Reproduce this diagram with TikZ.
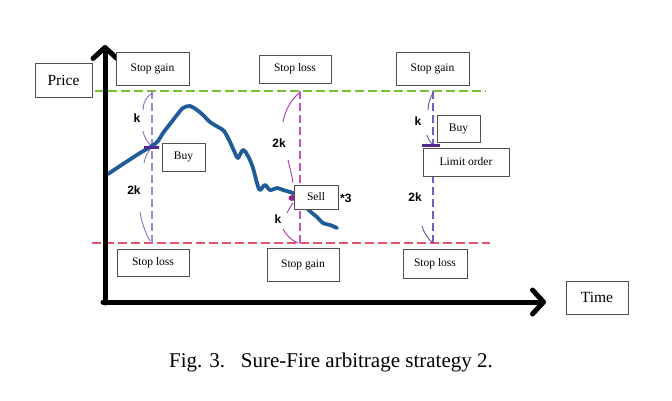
\documentclass[tikz,border=0pt]{standalone}
\usepackage{fontspec}
\setmainfont{Liberation Serif}
\newfontfamily\arialb{Liberation Sans}[BoldFont={Liberation Sans Bold}]
\usetikzlibrary{arrows.meta}
\definecolor{boxline}{HTML}{505050}
\definecolor{greenref}{HTML}{78C032}
\definecolor{redref}{HTML}{E2546C}
\definecolor{lline}{HTML}{9C86CC}
\definecolor{mline}{HTML}{C450C4}
\definecolor{pline}{HTML}{7A5CC0}
\definecolor{larc}{HTML}{8B72C0}
\definecolor{marc}{HTML}{A83AB0}
\definecolor{parc}{HTML}{6A4CB4}
\definecolor{pricecol}{HTML}{1F5C98}
\definecolor{markcol}{HTML}{55288F}
\definecolor{sellcol}{HTML}{A0208F}
\begin{document}
\begin{tikzpicture}[x=1pt,y=-1pt,
  box/.style={draw=boxline, line width=0.8pt, fill=white, inner sep=0pt,
    font=\fontsize{11.5}{13}\selectfont},
  bigbox/.style={box, font=\fontsize{15.5}{17}\selectfont},
  klabel/.style={font=\arialb\bfseries\fontsize{12}{13}\selectfont, inner sep=0pt},
  axis/.style={line width=5pt, line cap=round, -{Straight Barb[length=11pt,width=24pt,line width=5pt,round]}},
  hdash/.style={line width=1.2pt, dash pattern=on 9pt off 4pt},
  vdash/.style={line width=1.1pt, dash pattern=on 8pt off 4pt},
  arcline/.style={line width=0.9pt}]
\useasboundingbox (0,0) rectangle (672,400);

% horizontal reference lines
\coordinate (g1) at (95,91);  \coordinate (g2) at (486,91);
\coordinate (r1) at (92,243); \coordinate (r2) at (490,243);
\draw[hdash, greenref] (g1) -- (g2);
\draw[hdash, redref] (r1) -- (r2);

% vertical dashed lines
\coordinate (lt) at (152,91);  \coordinate (lb) at (152,243);
\coordinate (mt) at (300,91);  \coordinate (mb) at (300,243);
\coordinate (rt) at (433,91);  \coordinate (rb) at (433,243);
\draw[vdash, lline] (lt) -- (lb);
\draw[vdash, mline] (mt) -- (mb);
\draw[vdash, pline] (rt) -- (rb);

% brackets (left)
\coordinate (lbuy) at (152,147);
\draw[arcline, larc] (152,93) .. controls (146,97) and (143,103) .. (143,110);
\draw[arcline, larc] (143,131) .. controls (144,138) and (148,142) .. (lbuy);
\draw[arcline, larc] (lbuy) .. controls (148,151) and (145,157) .. (144,163);
\draw[arcline, larc] (140,212) .. controls (142,224) and (146,234) .. (150,241);
\node[klabel] (lk) at (137,118) {k};
\node[klabel] (l2k) at (134,190) {2k};

% brackets (middle)
\coordinate (msell) at (292,198);
\draw[arcline, marc] (299,93) .. controls (291,100) and (285,110) .. (283,122);
\draw[arcline, marc] (288,160) .. controls (290,168) and (292,176) .. (293,183);
\draw[arcline, marc] (293,203) .. controls (291,206) and (289,209) .. (287,213);
\draw[arcline, marc] (283,229) .. controls (286,235) and (291,240) .. (298,243);
\node[klabel] (m2k) at (279,143) {2k};
\node[klabel] (mk) at (278,219) {k};

% brackets (right)
\coordinate (rbuy) at (433,145);
\draw[arcline, parc] (433,93) .. controls (430,98) and (428,104) .. (428,110);
\draw[arcline, parc] (427,135) .. controls (428,139) and (430,142) .. (rbuy);
\draw[arcline, parc] (422,226) .. controls (424,233) and (428,239) .. (433,243);
\node[klabel] (rk) at (418,121) {k};
\node[klabel] (r2k) at (415,197) {2k};

% price path
\draw[pricecol, line width=3.8pt, line cap=round, line join=round]
  plot[smooth, tension=0.55] coordinates {
  (108,174) (123,164) (140,153) (152,146) (158,141) (163,133) (170,124)
  (177,115) (183,108) (190,106) (197,110) (203,115) (210,122) (218,127)
  (224,131) (230,142) (235,153) (238,158) (243,150) (248,156) (253,168)
  (257,183) (260,190) (265,185) (270,190) (277,188) (283,190) (293,193)
  (300,197) (307,208) (312,213) (317,217) (323,223) (330,225) (337,228)};

% markers
\draw[markcol, line width=3pt] (144,147) -- (159,147);
\fill[sellcol] (msell) ellipse (3.5pt and 3pt);
\draw[markcol, line width=3pt] (422,145) -- (440,145);

% axes
\coordinate (origin) at (105,302);
\coordinate (ytip) at (105,45);
\coordinate (xtip) at (546,302);
\draw[axis] (105,303) -- (ytip);
\draw[axis] (103,302) -- (xtip);

% boxes
\node[bigbox, minimum width=57pt, minimum height=34pt] (pricebox) at (63.5,80) {Price};
\node[bigbox, minimum width=62pt, minimum height=33pt] (timebox) at (597,297.5) {Time};
\node[box, minimum width=73pt, minimum height=33pt] (sg1) at (152.5,68.5) {Stop gain};
\node[box, minimum width=72pt, minimum height=28pt] (sl2) at (295,69) {Stop loss};
\node[box, minimum width=73pt, minimum height=33pt] (sg3) at (432.5,68.5) {Stop gain};
\node[box, minimum width=72pt, minimum height=27pt] (sl1) at (153,262.5) {Stop loss};
\node[box, minimum width=72pt, minimum height=33pt] (sg2) at (303,264.5) {Stop gain};
\node[box, minimum width=64pt, minimum height=29pt] (sl3) at (435,263.5) {Stop loss};
\node[box, minimum width=43pt, minimum height=28pt] (buy1) at (183.5,157) {Buy};
\node[box, minimum width=44pt, minimum height=24pt] (sell) at (316,197) {Sell};
\node[klabel, anchor=west] (times3) at (340,198) {*3};
\node[box, minimum width=43pt, minimum height=27pt] (buy3) at (458.5,128.5) {Buy};
\node[box, minimum width=86pt, minimum height=28pt] (limit) at (466,162) {Limit order};

% caption
\node[font=\fontsize{21}{24}\selectfont, inner sep=0pt] (caption) at (331,362)
  {Fig. 3.\hspace{0.75em}Sure-Fire arbitrage strategy 2.};
\end{tikzpicture}
\end{document}
